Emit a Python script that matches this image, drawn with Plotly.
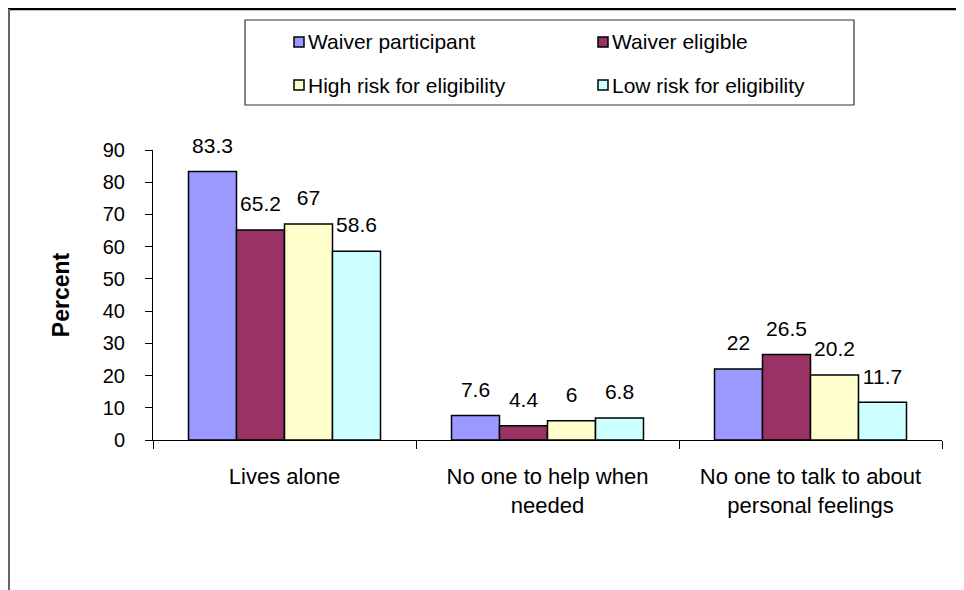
import plotly.graph_objects as go

categories = ["Lives alone", "No one to help when<br>needed", "No one to talk to about<br>personal feelings"]
series_names = ["Waiver participant", "Waiver eligible", "High risk for eligibility", "Low risk for eligibility"]
waiver_participant = [83.3, 7.6, 22]
waiver_eligible = [65.2, 4.4, 26.5]
high_risk = [67, 6, 20.2]
low_risk = [58.6, 6.8, 11.7]
series_values = [waiver_participant, waiver_eligible, high_risk, low_risk]
colors = ["#9999FF", "#993366", "#FFFFCC", "#CCFFFF"]
y_ticks = list(range(0, 91, 10))

# page body adds an 8px margin; positions below are given in screen pixels
OFF = 8
W, H = 964, 590
L, T = 153 - OFF, 150 - OFF
pw, ph = 789, 290
R, B = W - L - pw, H - T - ph


def px(x):
    return (x - OFF - L) / pw


def py(y):
    return (T + ph - (y - OFF)) / ph


FONT = "Liberation Sans, Arial, sans-serif"

fig = go.Figure()
for i, (name, vals, c) in enumerate(zip(series_names, series_values, colors)):
    fig.add_trace(go.Bar(
        x=categories, y=vals, name=name,
        marker=dict(color=c, line=dict(color="black", width=1.5)),
        offsetgroup="b%d" % i, alignmentgroup="bars", showlegend=False,
        hoverinfo="skip",
    ))
for i, vals in enumerate(series_values):
    fig.add_trace(go.Scatter(
        x=categories, y=vals, mode="markers+text",
        text=["%g" % v for v in vals], textposition="top center",
        textfont=dict(family=FONT, size=21, color="black"),
        marker=dict(size=20, opacity=0),
        offsetgroup="s%d" % i, alignmentgroup="scat", showlegend=False,
        cliponaxis=False, hoverinfo="skip",
    ))

shapes = [
    dict(type="line", xref="paper", yref="paper", x0=px(8), x1=px(980), y0=py(9), y1=py(9),
         line=dict(color="black", width=2.5)),
    dict(type="line", xref="paper", yref="paper", x0=px(9), x1=px(9), y0=py(9), y1=py(600),
         line=dict(color="#666666", width=2)),
    dict(type="rect", xref="paper", yref="paper", x0=px(245), x1=px(854), y0=py(20), y1=py(105),
         line=dict(color="#333333", width=1.2), fillcolor="white"),
]
annotations = []
leg_pos = [(294, 42), (598, 42), (294, 85), (598, 85)]
for (lx, ly), name, c in zip(leg_pos, series_names, colors):
    shapes.append(dict(type="rect", xref="paper", yref="paper",
                       x0=px(lx), x1=px(lx + 10), y0=py(ly - 5), y1=py(ly + 5),
                       line=dict(color="black", width=1.5), fillcolor=c))
    annotations.append(dict(xref="paper", yref="paper", x=px(lx + 12), y=py(ly), text=name,
                            showarrow=False, xanchor="left", yanchor="middle",
                            font=dict(family=FONT, size=21, color="black")))

fig.update_layout(
    width=W, height=H,
    margin=dict(l=L, r=R, t=T, b=B, autoexpand=False),
    paper_bgcolor="white", plot_bgcolor="white",
    barmode="group", bargap=0.27, bargroupgap=0,
    scattermode="group", scattergap=0.27,
    font=dict(family=FONT, size=20, color="black"),
    shapes=shapes, annotations=annotations,
    showlegend=False,
)
fig.update_xaxes(
    type="category", tickson="boundaries", ticks="outside", ticklen=8, tickcolor="black",
    showline=True, linecolor="black", linewidth=1, showgrid=False,
    tickfont=dict(family=FONT, size=22), ticklabelstandoff=17,
)
fig.update_yaxes(
    range=[0, 90], tickvals=y_ticks, ticks="outside", ticklen=7, tickcolor="black",
    showline=True, linecolor="black", linewidth=1, showgrid=False, zeroline=False,
    tickfont=dict(family=FONT, size=20), ticklabelstandoff=16,
    title=dict(text="<b>Percent</b>", font=dict(family=FONT, size=23), standoff=26),
)

fig.write_html("out.html")
